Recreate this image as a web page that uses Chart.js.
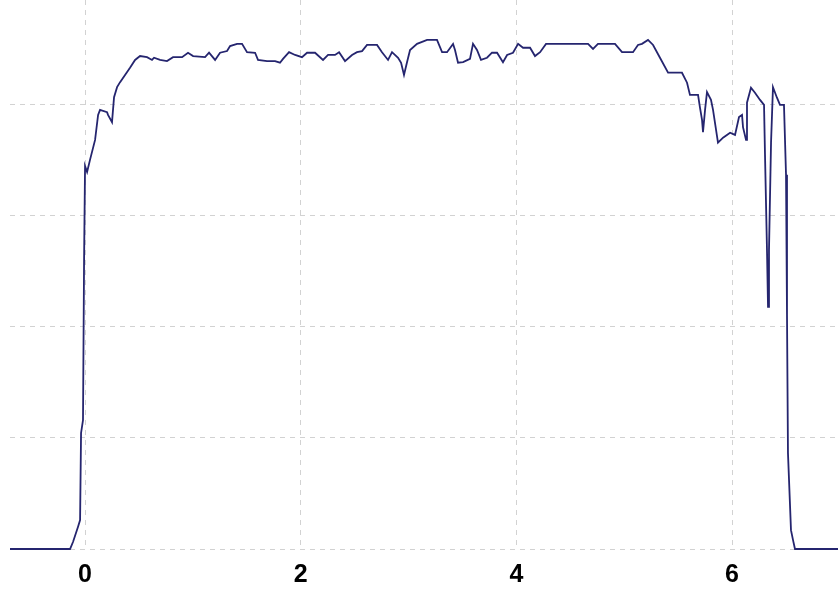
<!DOCTYPE html>
<html>
<head>
<meta charset="utf-8">
<script src="https://cdn.jsdelivr.net/npm/chart.js@4/dist/chart.umd.min.js"></script>
<style>
  html, body { margin: 0; padding: 0; background: #fff; }
  canvas { display: block; }
</style>
</head>
<body>
<canvas id="trace" width="838" height="590"></canvas>
<script>
// ========== Data ==========
const xTicks = [0, 2, 4, 6];
const yGrid = [0, 20, 40, 60, 80];

const xs = [
  -0.696, -0.139, -0.111, -0.065, -0.046, -0.037, -0.019, -0.009, 0.000, 0.019,
  0.046, 0.093, 0.121, 0.139, 0.204, 0.213, 0.250, 0.269, 0.297, 0.325,
  0.371, 0.417, 0.464, 0.510, 0.575, 0.621, 0.640, 0.696, 0.760, 0.816,
  0.900, 0.955, 1.002, 1.113, 1.150, 1.206, 1.252, 1.317, 1.345, 1.410,
  1.456, 1.502, 1.577, 1.604, 1.688, 1.762, 1.808, 1.836, 1.892, 1.948,
  2.012, 2.059, 2.133, 2.207, 2.254, 2.318, 2.356, 2.411, 2.476, 2.522,
  2.569, 2.615, 2.708, 2.754, 2.810, 2.847, 2.903, 2.931, 2.958, 2.986,
  3.014, 3.079, 3.172, 3.264, 3.311, 3.357, 3.413, 3.431, 3.459, 3.506,
  3.570, 3.598, 3.635, 3.672, 3.728, 3.774, 3.821, 3.876, 3.914, 3.969,
  4.016, 4.062, 4.127, 4.173, 4.220, 4.275, 4.665, 4.711, 4.757, 4.915,
  4.980, 5.082, 5.128, 5.165, 5.221, 5.268, 5.332, 5.407, 5.536, 5.583,
  5.610, 5.685, 5.703, 5.722, 5.731, 5.750, 5.768, 5.805, 5.824, 5.870,
  5.917, 5.982, 6.028, 6.065, 6.093, 6.102, 6.130, 6.139, 6.176, 6.213,
  6.260, 6.297, 6.306, 6.325, 6.334, 6.343, 6.362, 6.380, 6.417, 6.445,
  6.482, 6.501, 6.510, 6.519, 6.547, 6.566, 6.584, 6.983
];

const ys = [
  0.0, 0.0, 1.3, 4.0, 5.2, 20.9, 23.2, 52.1, 69.0, 67.9,
  70.1, 73.7, 78.2, 79.1, 78.7, 78.2, 76.9, 81.4, 83.2, 84.1,
  85.4, 86.7, 88.1, 88.8, 88.6, 88.1, 88.5, 88.1, 87.9, 88.6,
  88.6, 89.4, 88.8, 88.6, 89.4, 88.1, 89.4, 89.7, 90.6, 91.0,
  91.0, 89.5, 89.4, 88.1, 87.9, 87.9, 87.6, 88.3, 89.5, 89.0,
  88.6, 89.4, 89.4, 88.1, 89.0, 89.0, 89.5, 87.9, 89.0, 89.5,
  89.7, 90.8, 90.8, 89.5, 88.1, 89.5, 88.5, 87.6, 85.4, 87.7,
  89.9, 91.0, 91.7, 91.7, 89.5, 89.5, 91.0, 89.9, 87.6, 87.7,
  88.3, 91.0, 89.9, 88.1, 88.5, 89.4, 89.4, 87.7, 89.0, 89.4,
  91.0, 90.3, 90.3, 88.8, 89.5, 91.0, 91.0, 90.1, 91.0, 91.0,
  89.5, 89.5, 90.8, 91.0, 91.7, 90.8, 88.5, 85.8, 85.8, 84.0,
  81.8, 81.8, 79.5, 77.3, 75.1, 79.1, 82.3, 80.9, 79.1, 73.2,
  74.1, 75.0, 74.6, 77.8, 78.2, 76.0, 73.7, 80.4, 83.1, 82.2,
  80.9, 80.0, 71.0, 53.3, 43.6, 53.9, 73.2, 83.2, 81.3, 80.0,
  80.0, 67.4, 42.2, 17.3, 3.4, 1.6, 0.0, 0.0
];

const xMin = -0.696;
const xMax = 6.983;
const yMin = 0;
const yMax = 98.9;

// ========== Chart ==========
const gridColor = "#d2d2d2";

new Chart(document.getElementById("trace").getContext("2d"), {
  type: "line",
  data: {
    datasets: [{
      data: xs.map((x, i) => ({ x, y: ys[i] })),
      borderColor: "#25256f",
      borderWidth: 1.8,
      pointRadius: 0,
      tension: 0,
      fill: false,
      clip: false,
    }],
  },
  options: {
    responsive: false,
    animation: false,
    layout: { padding: 0 },
    plugins: {
      legend: { display: false },
      tooltip: { enabled: false },
    },
    scales: {
      x: {
        type: "linear",
        min: xMin,
        max: xMax,
        afterBuildTicks: (s) => { s.ticks = xTicks.map((v) => ({ value: v })); },
        afterFit: (s) => { s.height = 41; },
        grid: { color: gridColor, lineWidth: 1, drawTicks: false },
        border: { display: false, dash: [5, 5] },
        ticks: {
          color: "#000",
          padding: 11,
          font: { family: "Liberation Sans", size: 25, weight: "bold" },
          callback: (v) => String(v),
        },
      },
      y: {
        min: yMin,
        max: yMax,
        afterBuildTicks: (s) => { s.ticks = yGrid.map((v) => ({ value: v })); },
        afterFit: (s) => { s.width = 10; },
        grid: { color: gridColor, lineWidth: 1, drawTicks: false },
        border: { display: false, dash: [5, 5] },
        ticks: { display: false },
      },
    },
  },
});
</script>
</body>
</html>
